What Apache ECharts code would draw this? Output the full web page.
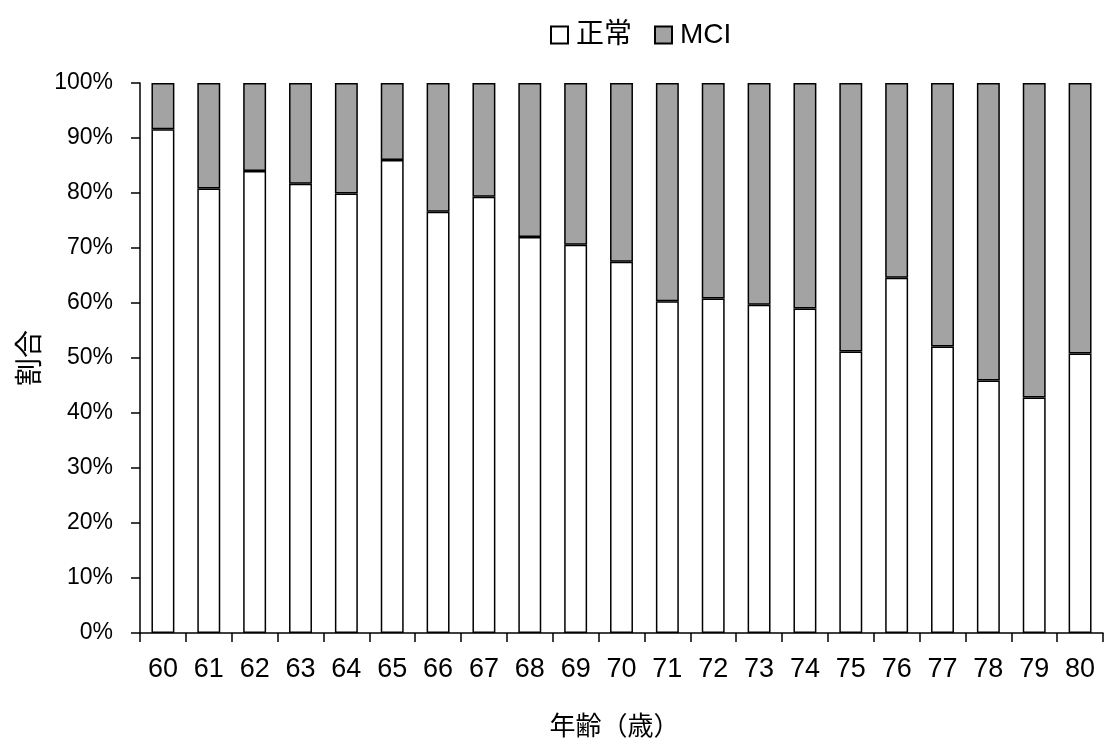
<!DOCTYPE html>
<html>
<head>
<meta charset="utf-8">
<script src="https://cdn.jsdelivr.net/npm/echarts@6/dist/echarts.min.js"></script>
<style>html,body{margin:0;padding:0;background:#fff;}#c{width:1110px;height:747px;}</style>
</head>
<body>
<div id="c"></div>
<script>
const ages = ['60','61','62','63','64','65','66','67','68','69','70','71','72','73','74','75','76','77','78','79','80'];
const normal = [91.6, 80.8, 84.0, 81.7, 79.9, 86.0, 76.6, 79.3, 72.0, 70.6, 67.5, 60.3, 60.8, 59.7, 59.0, 51.2, 64.6, 52.1, 45.9, 42.8, 50.8];
const mci = [8.4, 19.2, 16.0, 18.3, 20.1, 14.0, 23.4, 20.7, 28.0, 29.4, 32.5, 39.7, 39.2, 40.3, 41.0, 48.8, 35.4, 47.9, 54.1, 57.2, 49.2];
const seriesNames = ['正常', 'MCI'];
const xTitle = '年齢（歳）';
const yTitle = '割合';

const cjk = '"Noto Sans CJK JP", sans-serif';
const latin = '"Liberation Sans", Arial, sans-serif';
const mixed = '"Liberation Sans", "Noto Sans CJK JP", sans-serif';
const chart = echarts.init(document.getElementById('c'), null, {renderer: 'canvas'});
chart.setOption({
  animation: false,
  backgroundColor: '#fff',
  legend: {
    top: 16, left: 545,
    itemWidth: 17, itemHeight: 17, itemGap: 22,
    icon: 'rect',
    textStyle: {fontSize: 28, color: '#000', fontFamily: mixed, padding: [0, 0, 0, 3]},
    data: seriesNames
  },
  grid: {left: 140, right: 7, top: 83, bottom: 114, containLabel: false, outerBoundsMode: 'none'},
  xAxis: {
    type: 'category', data: ages,
    name: xTitle, nameLocation: 'middle', nameGap: 79,
    nameTextStyle: {fontSize: 26, color: '#000', fontFamily: cjk, padding: [0, 14, 0, 0]},
    axisLine: {lineStyle: {color: '#000', width: 1.5}},
    axisTick: {show: true, length: 9, lineStyle: {color: '#000', width: 1.5}},
    axisLabel: {fontSize: 27, color: '#000', fontFamily: latin, margin: 23}
  },
  yAxis: {
    type: 'value', min: 0, max: 100, interval: 10,
    name: yTitle, nameLocation: 'middle', nameGap: 98, nameRotate: 90,
    nameTextStyle: {fontSize: 28, color: '#000', fontFamily: cjk},
    axisLine: {show: true, lineStyle: {color: '#000', width: 1.5}},
    axisTick: {show: true, length: 9, lineStyle: {color: '#000', width: 1.5}},
    splitLine: {show: false},
    axisLabel: {fontSize: 23, color: '#000', fontFamily: latin, margin: 27, formatter: '{value}%'}
  },
  series: [
    {name: seriesNames[0], type: 'bar', stack: 'a', data: normal, barWidth: '50%',
     itemStyle: {color: '#ffffff', borderColor: '#000', borderWidth: 1.5}},
    {name: seriesNames[1], type: 'bar', stack: 'a', data: mci, barWidth: '50%',
     itemStyle: {color: '#a3a3a3', borderColor: '#000', borderWidth: 1.5}}
  ]
});
</script>
</body>
</html>
